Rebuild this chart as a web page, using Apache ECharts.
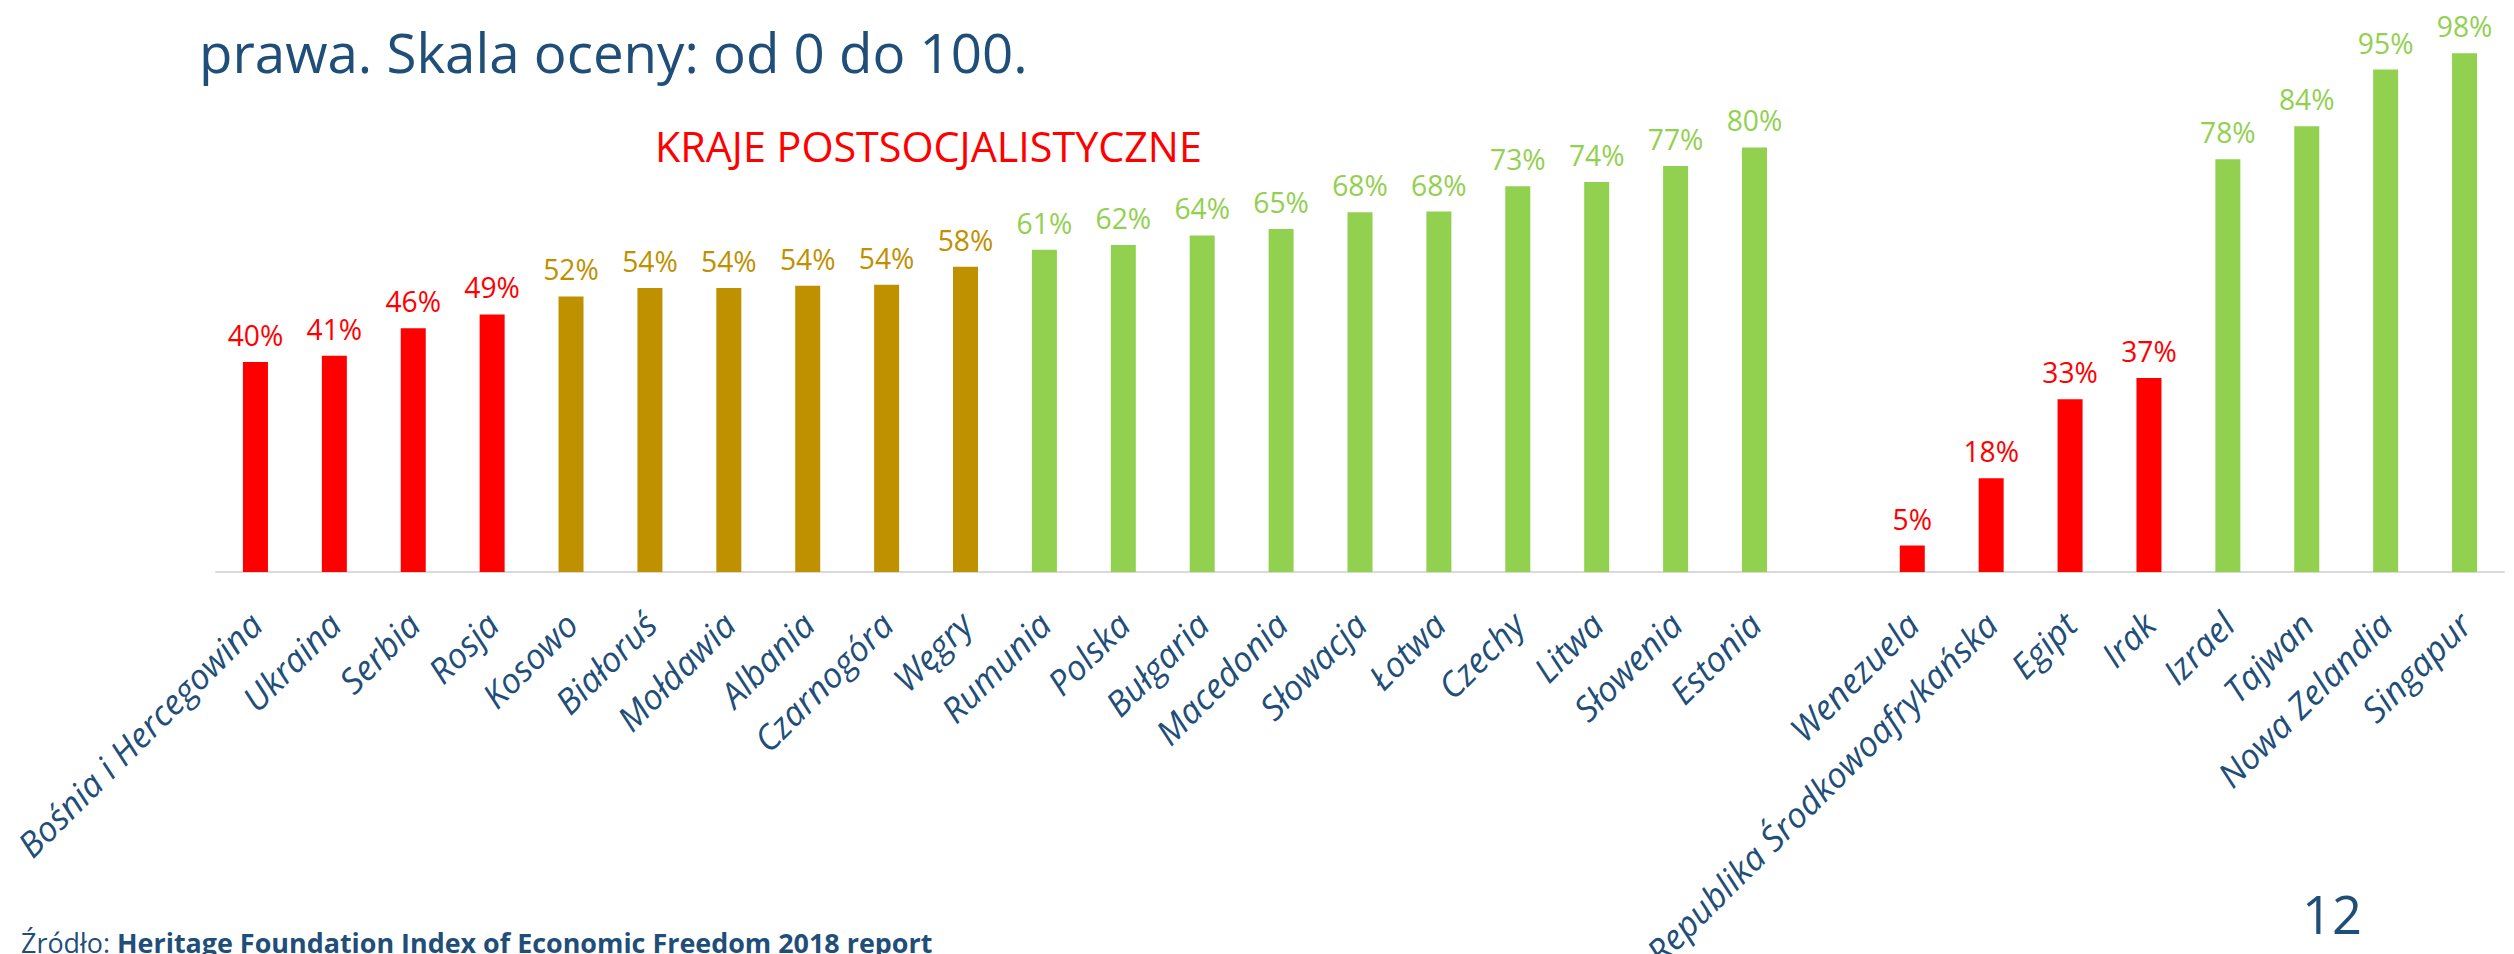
<!DOCTYPE html>
<html><head><meta charset="utf-8">
<script src="https://cdn.jsdelivr.net/npm/echarts@6/dist/echarts.min.js"></script>
<style>html,body{margin:0;padding:0;background:#fff}#c{width:2514px;height:954px}</style>
</head><body><div id="c"></div>
<script>
// ---- data ----
const categories = ['Bośnia i Hercegowina','Ukraina','Serbia','Rosja','Kosowo','Białoruś','Mołdawia','Albania','Czarnogóra','Węgry','Rumunia','Polska','Bułgaria','Macedonia','Słowacja','Łotwa','Czechy','Litwa','Słowenia','Estonia','','Wenezuela','Republika Środkowoafrykańska','Egipt','Irak','Izrael','Tajwan','Nowa Zelandia','Singapur'];
const values = [39.6,40.8,46.0,48.6,52.0,53.6,53.6,54.0,54.2,57.6,60.8,61.7,63.5,64.7,67.9,68.0,72.8,73.6,76.6,80.1,null,5.0,17.7,32.6,36.6,77.9,84.1,94.8,97.9];
const thresholds = [50, 60];
const titleLine = 'prawa. Skala oceny: od 0 do 100.';
const groupLabel = 'KRAJE POSTSOCJALISTYCZNE';
const sourcePrefix = 'Źródło: ';
const sourceText = 'Heritage Foundation Index of Economic Freedom 2018 report';
const pageNumber = '12';

// ---- styles ----
const RED = '#FF0000', GOLD = '#BF9000', GREEN = '#92D050', BLUE = '#1F4E79';
const FAM = "'Open Sans', 'Noto Sans', sans-serif";
function colorFor(v){ return v < thresholds[0] ? RED : (v < thresholds[1] ? GOLD : GREEN); }
const ctx = document.createElement('canvas').getContext('2d');
function fit(text, target, weight, style){
  ctx.font = (style||'normal') + ' ' + (weight||'normal') + ' 100px ' + FAM;
  return 100 * target / ctx.measureText(text).width;
}
const fsTitle = fit(titleLine, 829);
const fsGroup = fit(groupLabel, 547);
const fsData = fit('40%', 55.6);
const fsCat = fit('Republika Środkowoafrykańska', 480, 'normal', 'italic');
const fsPage = fit(pageNumber, 60);
ctx.font = 'normal normal 100px ' + FAM; const wPre = ctx.measureText(sourcePrefix).width;
ctx.font = 'normal bold 100px ' + FAM; const wSrc = ctx.measureText(sourceText).width;
const fsSrc = 100 * 912 / (wPre + wSrc);
const MID = 0.285; // baseline offset from middle (em)

const chart = echarts.init(document.getElementById('c'), null, {renderer:'svg'});
chart.setOption({
  animation:false,
  backgroundColor:'#fff',
  grid:{left:216, right:10, top:42, bottom:382, containLabel:false, outerBoundsMode:'none'},
  xAxis:{
    type:'category', data:categories,
    axisLine:{show:true, lineStyle:{color:'#D9D9D9', width:2}},
    axisTick:{show:false},
    axisLabel:{interval:0, rotate:45, margin:46, color:BLUE, fontStyle:'italic', fontFamily:FAM, fontSize:fsCat}
  },
  yAxis:{type:'value', min:0, max:100, show:false, splitLine:{show:false}},
  series:[{
    type:'bar', barWidth:25,
    data: values.map(v => v == null ? '-' : {value:v, itemStyle:{color:colorFor(v)}, label:{color:colorFor(v)}}),
    label:{show:true, position:'top', distance:13, fontFamily:FAM, fontSize:fsData,
      formatter: p => Math.round(p.value) + '%'}
  }],
  graphic:[
    {type:'text', x:199, y:68 - MID*fsTitle, style:{text:titleLine, fill:BLUE, fontFamily:FAM, fontSize:fsTitle, textAlign:'left', textVerticalAlign:'middle'}},
    {type:'text', x:655, y:158 - MID*fsGroup, style:{text:groupLabel, fill:RED, fontFamily:FAM, fontSize:fsGroup, textAlign:'left', textVerticalAlign:'middle'}},
    {type:'text', x:2302, y:928 - MID*fsPage, style:{text:pageNumber, fill:BLUE, fontFamily:FAM, fontSize:fsPage, textAlign:'left', textVerticalAlign:'middle'}},
    {type:'text', x:21, y:950 - MID*fsSrc, style:{text:'{a|' + sourcePrefix + '}{b|' + sourceText + '}', fill:BLUE, textAlign:'left', textVerticalAlign:'middle',
      rich:{a:{fontFamily:FAM, fontSize:fsSrc, color:BLUE}, b:{fontFamily:FAM, fontSize:fsSrc, fontWeight:'bold', color:BLUE}}}}
  ]
});
</script></body></html>
